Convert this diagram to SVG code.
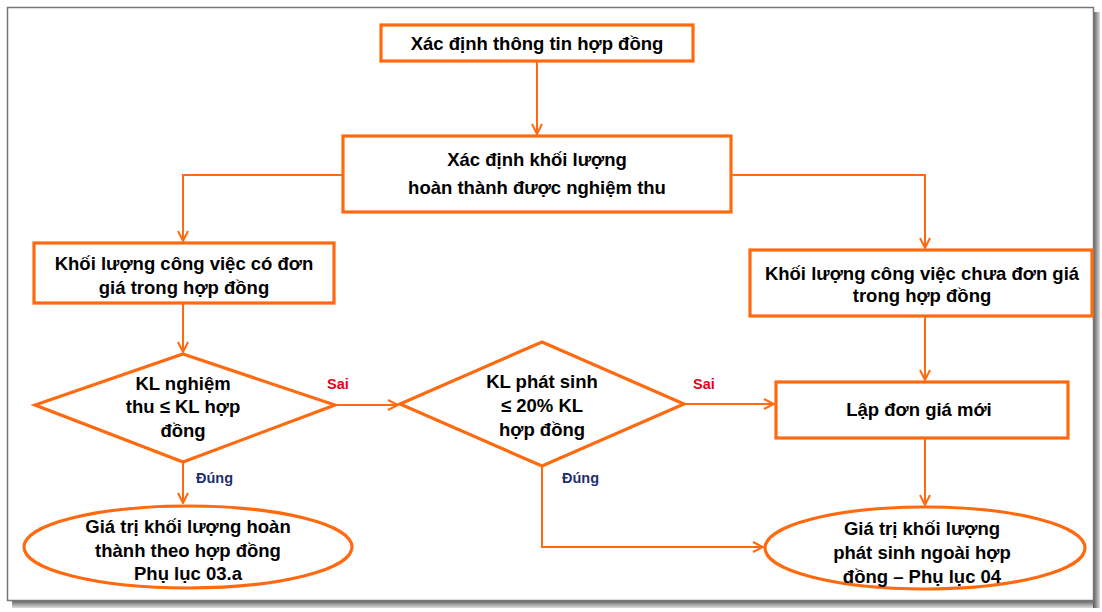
<svg xmlns="http://www.w3.org/2000/svg" width="1102" height="612" viewBox="0 0 1102 612">
<defs>
<style>
.n{fill:#fff;stroke:#FF6A10;stroke-width:3.2}
.c{fill:none;stroke:#FF6A10;stroke-width:2}
.t{font-family:"Liberation Sans",Arial,sans-serif;font-weight:bold;font-size:18.5px;fill:#000;text-anchor:middle}
.sai{font-family:"Liberation Sans",Arial,sans-serif;font-weight:bold;font-size:14.5px;fill:#E8001C}
.dung{font-family:"Liberation Sans",Arial,sans-serif;font-weight:bold;font-size:14.5px;fill:#1F2F6E}
</style>
<marker id="a" viewBox="0 0 12 12" refX="11" refY="6" markerWidth="12" markerHeight="12" markerUnits="userSpaceOnUse" orient="auto">
<polyline points="1,1 11,6 1,11" fill="none" stroke="#FF6A10" stroke-width="2"/>
</marker>
<linearGradient id="sb" x1="0" y1="0" x2="0" y2="1"><stop offset="0" stop-color="#555"/><stop offset="1" stop-color="#ddd"/></linearGradient>
<linearGradient id="sr" x1="0" y1="0" x2="1" y2="0"><stop offset="0" stop-color="#555"/><stop offset="1" stop-color="#ddd"/></linearGradient>
</defs>
<rect width="1102" height="612" fill="#fff"/>
<g id="frame">
<rect x="12" y="600" width="1088" height="8" fill="url(#sb)"/>
<rect x="1093" y="12" width="7" height="596" fill="url(#sr)"/>
<rect x="7.5" y="7.5" width="1086" height="593" fill="#fff" stroke="#777" stroke-width="1.5"/>
</g>
<g id="connectors">
<path class="c" d="M537,61 V134" marker-end="url(#a)"/>
<path class="c" d="M343,175 H183 V241" marker-end="url(#a)"/>
<path class="c" d="M731,175 H925 V248" marker-end="url(#a)"/>
<path class="c" d="M183,303 V352" marker-end="url(#a)"/>
<path class="c" d="M335,405 H398" marker-end="url(#a)"/>
<path class="c" d="M684,404 H774" marker-end="url(#a)"/>
<path class="c" d="M925,316 V380" marker-end="url(#a)"/>
<path class="c" d="M925,438 V505" marker-end="url(#a)"/>
<path class="c" d="M542,466 V547 H763" marker-end="url(#a)"/>
<path class="c" d="M183,462 V503" marker-end="url(#a)"/>
<text class="sai" x="327" y="389">Sai</text>
<text class="sai" x="693" y="389">Sai</text>
<text class="dung" x="196" y="483">Đúng</text>
<text class="dung" x="562" y="483">Đúng</text>
</g>
<g id="n1">
<rect class="n" x="381" y="25" width="312" height="36"/>
<text class="t" x="537" y="50">Xác định thông tin hợp đồng</text>
</g>
<g id="n2">
<rect class="n" x="343" y="136" width="388" height="76"/>
<text class="t" x="537" y="166">Xác định khối lượng</text>
<text class="t" x="537" y="194">hoàn thành được nghiệm thu</text>
</g>
<g id="n3">
<rect class="n" x="34" y="243" width="300" height="60"/>
<text class="t" x="184" y="270">Khối lượng công việc có đơn</text>
<text class="t" x="184" y="294">giá trong hợp đồng</text>
</g>
<g id="n4">
<rect class="n" x="750" y="250" width="342" height="66"/>
<text class="t" x="922" y="280">Khối lượng công việc chưa đơn giá</text>
<text class="t" x="922" y="302">trong hợp đồng</text>
</g>
<g id="n5">
<polygon class="n" points="183,354 335,405 183,462 35,405"/>
<text class="t" x="183" y="390">KL nghiệm</text>
<text class="t" x="183" y="413">thu ≤ KL hợp</text>
<text class="t" x="183" y="437">đồng</text>
</g>
<g id="n6">
<polygon class="n" points="542,342 684,404 542,466 400,404"/>
<text class="t" x="542" y="388">KL phát sinh</text>
<text class="t" x="542" y="412">≤ 20% KL</text>
<text class="t" x="542" y="436">hợp đồng</text>
</g>
<g id="n7">
<rect class="n" x="776" y="382" width="292" height="56"/>
<text class="t" x="919" y="416">Lập đơn giá mới</text>
</g>
<g id="n8">
<ellipse class="n" cx="188" cy="547" rx="164" ry="41"/>
<text class="t" x="188" y="533">Giá trị  khối lượng hoàn</text>
<text class="t" x="188" y="557">thành theo hợp đồng</text>
<text class="t" x="188" y="580">Phụ lục 03.a</text>
</g>
<g id="n9">
<ellipse class="n" cx="925" cy="548" rx="160" ry="41"/>
<text class="t" x="922" y="535">Giá trị  khối lượng</text>
<text class="t" x="922" y="559">phát sinh ngoài hợp</text>
<text class="t" x="922" y="583">đồng – Phụ lục 04</text>
</g>
</svg>
